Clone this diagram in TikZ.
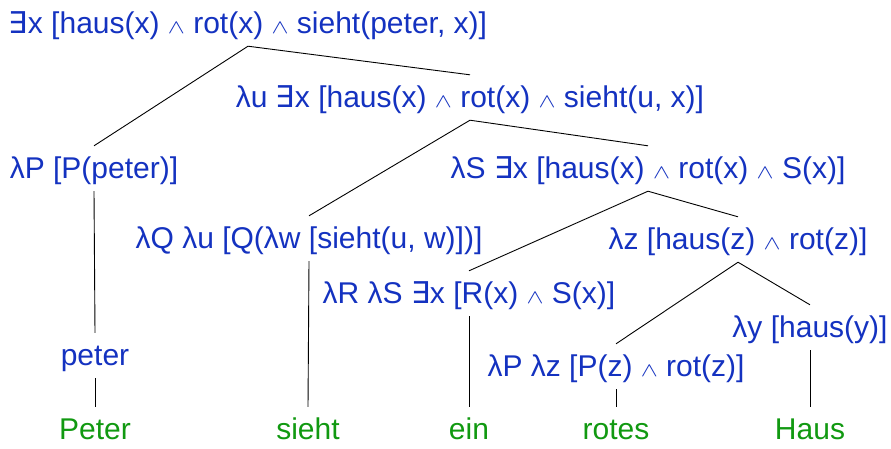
\documentclass[tikz,border=0pt]{standalone}
\usepackage{graphicx}
\usepackage{fontspec}
\setmainfont{Liberation Sans}
\newfontfamily\symfont{DejaVu Sans}
\definecolor{TermBlue}{HTML}{1432C0}
\definecolor{WordGreen}{HTML}{119911}
\newcommand{\exsym}{{\symfont ∃}}
\newcommand{\andsym}{\resizebox{17pt}{11pt}{$\wedge$}}
\tikzset{
  semnode/.style={text=TermBlue, anchor=base, inner sep=0pt, text height=32pt, text depth=13pt, font=\fontsize{30}{35}\selectfont},
  wordnode/.style={semnode, text=WordGreen},
  branch/.style={draw=black, line width=0.9pt}
}
\begin{document}
\begin{tikzpicture}[x=1pt, y=-1pt]
\useasboundingbox (0,0) rectangle (891,448);
\node[semnode] (top) at (248,33) {\exsym x [haus(x) \andsym{} rot(x) \andsym{} sieht(peter, x)]};
\node[semnode] (vp) at (470,107) {λu \exsym x [haus(x) \andsym{} rot(x) \andsym{} sieht(u, x)]};
\node[semnode] (subj) at (94,178) {λP [P(peter)]};
\node[semnode] (obj) at (648,178) {λS \exsym x [haus(x) \andsym{} rot(x) \andsym{} S(x)]};
\node[semnode] (verb) at (309,248) {λQ λu [Q(λw [sieht(u, w)])]};
\node[semnode] (nbar) at (738,249) {λz [haus(z) \andsym{} rot(z)]};
\node[semnode] (det) at (469,303) {λR λS \exsym x [R(x) \andsym{} S(x)]};
\node[semnode] (noun) at (810,337) {λy [haus(y)]};
\node[semnode] (name) at (95,365) {peter};
\node[semnode] (adj) at (616,376) {λP λz [P(z) \andsym{} rot(z)]};

\node[wordnode] (wpeter) at (95,439) {Peter};
\node[wordnode] (wsieht) at (308,439) {sieht};
\node[wordnode] (wein) at (469,439) {ein};
\node[wordnode] (wrotes) at (616,439) {rotes};
\node[wordnode] (whaus) at (810,439) {Haus};

\draw[branch] (top.south) -- (subj.north);
\draw[branch] (top.south) -- (vp.north);
\draw[branch] (vp.south) -- (verb.north);
\draw[branch] (vp.south) -- (obj.north);
\draw[branch] (subj.south) -- (name.north);
\draw[branch] (name.south) -- (wpeter.north);
\draw[branch] (verb.south) -- (wsieht.north);
\draw[branch] (obj.south) -- (det.north);
\draw[branch] (obj.south) -- (nbar.north);
\draw[branch] (det.south) -- (wein.north);
\draw[branch] (nbar.south) -- (adj.north);
\draw[branch] (nbar.south) -- (noun.north);
\draw[branch] (adj.south) -- (wrotes.north);
\draw[branch] (noun.south) -- (whaus.north);
\end{tikzpicture}
\end{document}
